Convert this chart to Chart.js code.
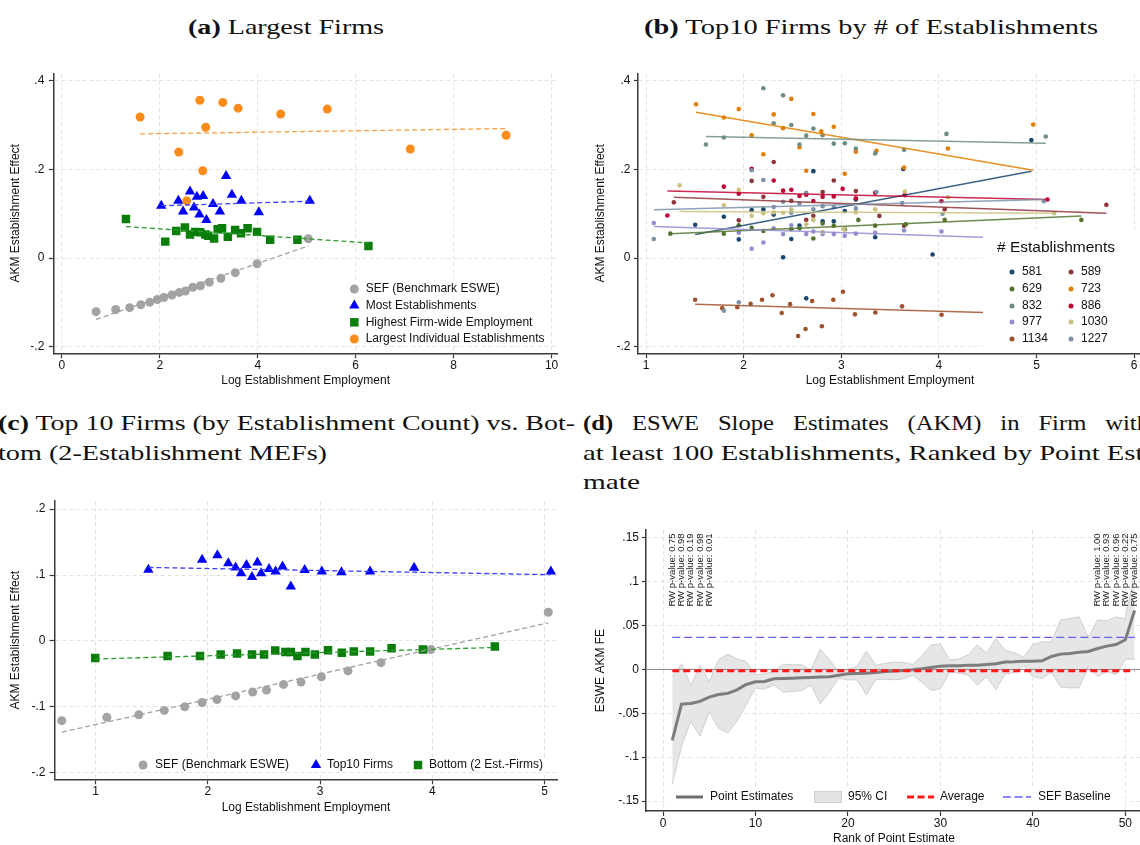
<!DOCTYPE html>
<html>
<head>
<meta charset="utf-8">
<script src="https://cdn.jsdelivr.net/npm/chart.js@4.4.1/dist/chart.umd.min.js"></script>
<style>
  html, body { margin: 0; padding: 0; background: #fff; }
  body { width: 1140px; height: 845px; overflow: hidden; position: relative; }
  canvas { position: absolute; }
  .ttl { position: absolute; font-family: "Liberation Serif", "Times New Roman", serif; font-size: 22px;
         line-height: 22px; white-space: nowrap; color: #111; transform-origin: 0 0; }
  .ttl.just { white-space: normal; text-align: justify; text-align-last: justify; }
</style>
</head>
<body>

<div class="ttl" data-w="196" style="left:188px; top:15.9px"><b>(a)</b> Largest Firms</div>
<div class="ttl" data-w="454" style="left:644px; top:15.9px"><b>(b)</b> Top10 Firms by # of Establishments</div>
<div class="ttl" data-w="577" style="left:-2px; top:411.6px"><b>(c)</b> Top 10 Firms (by Establishment Count) vs. Bot-</div>
<div class="ttl" data-w="329" style="left:-2px; top:441.6px">tom (2-Establishment MEFs)</div>
<div class="ttl just" data-w="566" data-s="1.12" style="left:583px; top:411.6px"><b>(d)</b> ESWE Slope Estimates (AKM) in Firm with</div>
<div class="ttl" data-w="578" style="left:583px; top:441.6px">at least 100 Establishments, Ranked by Point Esti-</div>
<div class="ttl" data-w="57" style="left:583px; top:470.6px">mate</div>

<canvas id="chartA" width="570" height="330" style="left:0px; top:60px"></canvas>
<canvas id="chartB" width="580" height="330" style="left:580px; top:60px"></canvas>
<canvas id="chartC" width="570" height="340" style="left:0px; top:490px"></canvas>
<canvas id="chartD" width="580" height="330" style="left:580px; top:520px"></canvas>

<script>
// ---------- data: panel (a) Largest Firms ----------
const sefX = [0.699, 1.100, 1.385, 1.612, 1.794, 1.949, 2.081, 2.247, 2.399, 2.522, 2.674, 2.830, 3.011, 3.248, 3.542, 3.986, 5.032];
const sefY = [-0.121, -0.116, -0.112, -0.1055, -0.100, -0.0935, -0.089, -0.0835, -0.0775, -0.0745, -0.066, -0.0625, -0.0545, -0.0455, -0.033, -0.013, 0.0435];
const sefFitX = [0.699, 5.032];
const sefFitY = [-0.1385, 0.0275];

const mostEstX = [2.030, 2.379, 2.476, 2.617, 2.699, 2.758, 2.810, 2.885, 2.952, 3.086, 3.227, 3.353, 3.472, 3.665, 4.022, 5.063];
const mostEstY = [0.118, 0.129, 0.105, 0.150, 0.114, 0.138, 0.098, 0.140, 0.086, 0.122, 0.105, 0.185, 0.143, 0.129, 0.103, 0.129];
const mostEstFitX = [2.030, 5.063];
const mostEstFitY = [0.118, 0.128];

const highEmpX = [1.309, 2.112, 2.335, 2.513, 2.617, 2.721, 2.825, 2.929, 2.989, 3.108, 3.182, 3.271, 3.390, 3.539, 3.658, 3.792, 3.985, 4.253, 4.810, 6.260];
const highEmpY = [0.088, 0.037, 0.061, 0.069, 0.053, 0.059, 0.058, 0.053, 0.050, 0.044, 0.065, 0.067, 0.048, 0.063, 0.056, 0.067, 0.059, 0.041, 0.041, 0.027];
const highEmpFitX = [1.309, 6.260];
const highEmpFitY = [0.071, 0.034];

const largestX = [1.599, 2.818, 3.286, 3.599, 4.468, 5.420, 2.937, 2.387, 2.877, 7.115, 9.071, 2.550];
const largestY = [0.318, 0.356, 0.351, 0.338, 0.325, 0.336, 0.295, 0.239, 0.197, 0.246, 0.277, 0.129];
const largestFitX = [1.599, 9.071];
const largestFitY = [0.280, 0.292];

const xTicksA = [0, 2, 4, 6, 8, 10];
const xLabelsA = ['0', '2', '4', '6', '8', '10'];
const yTicksA = [-0.2, 0, 0.2, 0.4];
const yLabelsA = ['-.2', '0', '.2', '.4'];

// ---------- data: panel (b) Top10 firms by # of establishments ----------
const firmNames = ['581', '589', '629', '723', '832', '886', '977', '1030', '1134', '1227'];
const firmColors = ['#1a476f', '#90353b', '#55752f', '#e37e00', '#6e8e84', '#c10534', '#938dd2', '#cac27e', '#a0522d', '#7b92a8'];

const firm581X = [1.504, 1.797, 1.950, 2.082, 2.202, 2.308, 2.404, 2.488, 2.572, 2.641, 2.714, 2.809, 2.923, 3.036, 3.149, 3.347, 3.635, 3.935, 4.947];
const firm581Y = [0.075, 0.093, 0.042, 0.108, 0.110, 0.098, 0.0015, 0.043, 0.073, -0.091, 0.196, 0.083, 0.083, 0.106, 0.132, 0.047, 0.201, 0.008, 0.266];
const firm589X = [1.285, 1.950, 2.082, 2.202, 2.308, 2.488, 2.641, 2.714, 2.809, 2.923, 3.149, 3.390, 3.643, 4.059, 5.715];
const firm589Y = [0.1256, 0.085, 0.174, 0.138, 0.2165, 0.129, 0.0865, 0.0955, 0.149, 0.175, 0.151, 0.095, 0.073, 0.110, 0.120];
const firm629X = [1.249, 1.797, 1.950, 2.082, 2.202, 2.488, 2.572, 2.714, 2.809, 2.923, 3.036, 3.175, 3.347, 3.661, 4.059, 5.459];
const firm629Y = [0.055, 0.055, 0.074, 0.068, 0.061, 0.065, 0.067, 0.044, 0.078, 0.073, 0.065, 0.086, 0.073, 0.076, 0.086, 0.086];
const firm723X = [1.512, 1.797, 1.950, 2.082, 2.202, 2.308, 2.404, 2.488, 2.572, 2.641, 2.714, 2.795, 2.923, 3.036, 3.149, 3.361, 3.643, 4.092, 4.966];
const firm723Y = [0.347, 0.317, 0.336, 0.277, 0.234, 0.324, 0.293, 0.359, 0.250, 0.197, 0.325, 0.286, 0.296, 0.190, 0.240, 0.242, 0.204, 0.247, 0.301];
const firm832X = [1.614, 1.797, 2.202, 2.308, 2.404, 2.488, 2.572, 2.641, 2.714, 2.809, 2.923, 3.036, 3.149, 3.347, 3.643, 4.077, 5.094];
const firm832Y = [0.256, 0.272, 0.383, 0.304, 0.367, 0.300, 0.256, 0.276, 0.292, 0.277, 0.258, 0.259, 0.247, 0.236, 0.244, 0.280, 0.274];
const firm886X = [1.219, 1.797, 1.950, 2.082, 2.308, 2.404, 2.488, 2.572, 2.641, 2.714, 2.809, 2.923, 3.014, 3.149, 3.347, 3.650, 4.026, 5.112];
const firm886Y = [0.096, 0.161, 0.145, 0.2015, 0.175, 0.152, 0.154, 0.140, 0.143, 0.1286, 0.138, 0.139, 0.156, 0.1346, 0.147, 0.142, 0.128, 0.132];
const firm977X = [1.080, 1.950, 2.082, 2.202, 2.308, 2.404, 2.488, 2.641, 2.714, 2.809, 2.923, 3.036, 3.149, 3.347, 3.643, 4.026];
const firm977Y = [0.079, 0.057, 0.021, 0.035, 0.067, 0.054, 0.074, 0.054, 0.060, 0.054, 0.054, 0.050, 0.055, 0.057, 0.062, 0.060];
const firm1030X = [1.344, 1.797, 1.950, 2.082, 2.202, 2.308, 2.404, 2.488, 2.641, 2.714, 2.809, 3.025, 3.149, 3.347, 3.650, 4.092, 5.181];
const firm1030Y = [0.164, 0.119, 0.154, 0.095, 0.101, 0.103, 0.102, 0.110, 0.076, 0.086, 0.059, 0.065, 0.103, 0.110, 0.150, 0.137, 0.101];
const firm1134X = [1.503, 1.781, 1.935, 2.072, 2.188, 2.295, 2.390, 2.476, 2.558, 2.634, 2.702, 2.801, 2.918, 3.017, 3.140, 3.349, 3.623, 4.027];
const firm1134Y = [-0.094, -0.113, -0.111, -0.103, -0.094, -0.084, -0.124, -0.104, -0.176, -0.160, -0.097, -0.154, -0.094, -0.076, -0.127, -0.123, -0.109, -0.128];
const firm1227X = [1.080, 1.797, 1.950, 2.082, 2.202, 2.308, 2.404, 2.488, 2.572, 2.641, 2.714, 2.809, 2.923, 3.149, 3.361, 3.624, 4.037, 5.075];
const firm1227Y = [0.043, -0.119, -0.100, 0.198, 0.176, 0.115, 0.127, 0.102, 0.123, 0.147, 0.110, 0.117, 0.115, 0.112, 0.149, 0.124, 0.100, 0.128];

// fitted lines: [x0, y0, x1, y1]
const fit581 = [1.504, 0.053, 4.947, 0.196];
const fit589 = [1.285, 0.137, 5.715, 0.101];
const fit629 = [1.249, 0.055, 5.459, 0.095];
const fit723 = [1.512, 0.329, 4.966, 0.198];
const fit832 = [1.614, 0.274, 5.094, 0.259];
const fit886 = [1.219, 0.151, 5.112, 0.132];
const fit977 = [1.080, 0.071, 5.000, 0.043];
const fit1030 = [1.344, 0.105, 5.181, 0.101];
const fit1134 = [1.503, -0.1045, 5.000, -0.126];
const fit1227 = [1.080, 0.109, 5.075, 0.132];

const xTicksB = [1, 2, 3, 4, 5, 6];
const xLabelsB = ['1', '2', '3', '4', '5', '6'];

// ---------- data: panel (c) Top 10 vs bottom ----------
const top10X = [1.470, 1.949, 2.085, 2.182, 2.247, 2.296, 2.344, 2.393, 2.441, 2.474, 2.545, 2.603, 2.665, 2.739, 2.862, 3.015, 3.190, 3.445, 3.837, 5.055];
const top10Y = [0.108, 0.123, 0.130, 0.118, 0.1115, 0.1025, 0.115, 0.097, 0.119, 0.1025, 0.109, 0.1055, 0.113, 0.0825, 0.1075, 0.1055, 0.104, 0.1055, 0.111, 0.1055];
const top10FitX = [1.470, 5.055];
const top10FitY = [0.1115, 0.1005];

const bottomX = [0.997, 1.641, 1.930, 2.114, 2.260, 2.393, 2.500, 2.600, 2.691, 2.739, 2.798, 2.869, 2.953, 3.070, 3.193, 3.300, 3.445, 3.636, 3.915, 4.556];
const bottomY = [-0.026, -0.023, -0.023, -0.0205, -0.019, -0.0205, -0.0205, -0.0145, -0.017, -0.017, -0.023, -0.017, -0.0205, -0.014, -0.018, -0.016, -0.016, -0.011, -0.013, -0.0085];
const bottomFitX = [0.997, 4.556];
const bottomFitY = [-0.0275, -0.010];

const xTicksC = [1, 2, 3, 4, 5];
const xLabelsC = ['1', '2', '3', '4', '5'];
const yTicksC = [-0.2, -0.1, 0, 0.1, 0.2];
const yLabelsC = ['-.2', '-.1', '0', '.1', '.2'];

// ---------- data: panel (d) ESWE slope estimates ----------
const rankD = [1, 2, 3, 4, 5, 6, 7, 8, 9, 10, 11, 12, 13, 14, 15, 16, 17, 18, 19, 20, 21, 22, 23, 24, 25,
               26, 27, 28, 29, 30, 31, 32, 33, 34, 35, 36, 37, 38, 39, 40, 41, 42, 43, 44, 45, 46, 47, 48, 49, 50, 51];
const pointEst = [-0.081, -0.0395, -0.0387, -0.0364, -0.0315, -0.0285, -0.0273, -0.0232, -0.0171, -0.014,
                  -0.0137, -0.0106, -0.0103, -0.0099, -0.0095, -0.0091, -0.0087, -0.0084, -0.0065, -0.0049,
                  -0.0046, -0.0042, -0.0034, -0.0023, -0.0019, -0.0011, -0.0004, 0.0008, 0.0023, 0.0038,
                  0.0042, 0.0042, 0.0049, 0.0049, 0.0057, 0.0065, 0.0084, 0.0087, 0.0095, 0.0095,
                  0.0099, 0.0148, 0.0175, 0.0182, 0.0197, 0.0205, 0.0239, 0.0266, 0.0285, 0.0338, 0.0672];
const ciUpper = [-0.008, 0.0065, -0.018, 0.0045, -0.014, 0.011, 0.0175, 0.012, 0.009, -0.006,
                 -0.005, -0.0023, 0.006, 0.0053, 0.0053, -0.0004, 0.023, 0.011, -0.0027, 0.0004,
                 0.0034, 0.021, 0.0046, 0.007, 0.0084, 0.008, 0.0057, 0.0156, 0.028, 0.029,
                 0.011, 0.0118, 0.0167, 0.028, 0.0186, 0.035, 0.0216, 0.019, 0.014, 0.0285,
                 0.0315, 0.0315, 0.0566, 0.058, 0.060, 0.0364, 0.0566, 0.0554, 0.060, 0.0577, 0.110];
const ciLower = [-0.131, -0.088, -0.059, -0.076, -0.048, -0.067, -0.0725, -0.059, -0.040, -0.021,
                 -0.0225, -0.0175, -0.026, -0.025, -0.024, -0.018, -0.039, -0.026, -0.010, -0.0118,
                 -0.012, -0.029, -0.0118, -0.011, -0.0118, -0.0106, -0.0065, -0.0144, -0.024, -0.022,
                 -0.003, -0.0042, -0.0065, -0.018, -0.008, -0.023, -0.0053, -0.0034, 0.0046, -0.008,
                 -0.0106, -0.003, -0.020, -0.021, -0.021, 0.0034, -0.008, -0.0023, -0.006, 0.0118, 0.0118];
const averageD = -0.0015;
const sefBaselineD = 0.0365;
const annotRanks = [1, 2, 3, 4, 5, 47, 48, 49, 50, 51];
const annotPvals = ['0.75', '0.98', '0.19', '0.98', '0.01', '1.00', '0.93', '0.96', '0.22', '0.75'];
const annotY = 0.0717;

const xTicksD = [0, 10, 20, 30, 40, 50];
const xLabelsD = ['0', '10', '20', '30', '40', '50'];
const yTicksD = [-0.15, -0.1, -0.05, 0, 0.05, 0.1, 0.15];
const yLabelsD = ['-.15', '-.1', '-.05', '0', '.05', '.1', '.15'];
const xMinD = -1.84, xMaxD = 51.8;

// ---------- styling ----------
const FONT = '"Liberation Sans", Arial, Helvetica, sans-serif';
const GRID = '#e2e2e2';
const AXIS = '#3a3a3a';
const TXT = '#111';
const C_SEF = '#a3a3a3', C_BLUE = '#0000f5', C_GREEN = '#0a7d0a', C_ORANGE = '#fb8c1c';
const R_CIRCLE = 4.5, R_TRI = 6, R_RECT = 6;

Chart.defaults.font.family = FONT;
Chart.defaults.font.size = 12;
Chart.defaults.color = TXT;
Chart.defaults.animation = false;
Chart.defaults.plugins.legend.display = false;
Chart.defaults.plugins.tooltip.enabled = false;

function pts(xs, ys) {
    return xs.map((x, i) => ({ x: x, y: ys[i] }));
}

function axis(o) {
    return {
        type: 'linear',
        position: o.pos,
        min: o.min,
        max: o.max,
        afterBuildTicks: s => { s.ticks = o.ticks.map(v => ({ value: v })); },
        afterFit: s => { if (o.pos === 'left') s.width = o.size; else s.height = o.size; },
        ticks: { autoSkip: false, maxRotation: 0, padding: o.pad, color: TXT,
                 callback: (v, i) => o.labels[i] },
        grid: { color: GRID, lineWidth: 1, tickLength: o.tl, tickColor: AXIS, tickWidth: 1.2 },
        border: { display: true, color: AXIS, width: 1.5, dash: [4, 3] },
        title: { display: true, text: o.title, color: TXT, padding: o.titlePad }
    };
}

function marker(ctx, style, x, y, r, color) {
    ctx.save();
    ctx.fillStyle = color;
    ctx.beginPath();
    if (style === 'triangle') {
        let rad = 0;
        ctx.moveTo(x + Math.sin(rad) * r, y - Math.cos(rad) * r);
        rad += 2 * Math.PI / 3;
        ctx.lineTo(x + Math.sin(rad) * r, y - Math.cos(rad) * r);
        rad += 2 * Math.PI / 3;
        ctx.lineTo(x + Math.sin(rad) * r, y - Math.cos(rad) * r);
        ctx.closePath();
    } else if (style === 'rect') {
        const s = Math.SQRT1_2 * r;
        ctx.rect(x - s, y - s, 2 * s, 2 * s);
    } else {
        ctx.arc(x, y, r, 0, 2 * Math.PI);
    }
    ctx.fill();
    ctx.restore();
}

function label(ctx, text, x, y, size) {
    ctx.save();
    ctx.fillStyle = TXT;
    ctx.font = (size || 12) + 'px ' + FONT;
    ctx.textAlign = 'left';
    ctx.textBaseline = 'middle';
    ctx.fillText(text, x, y);
    ctx.restore();
}

function whiteBox(ctx, x, y, w, h) {
    ctx.save();
    ctx.fillStyle = '#fff';
    ctx.fillRect(x, y, w, h);
    ctx.restore();
}

function sample(ctx, x0, x1, y, color, width, dash) {
    ctx.save();
    ctx.strokeStyle = color;
    ctx.lineWidth = width;
    ctx.setLineDash(dash || []);
    ctx.beginPath();
    ctx.moveTo(x0, y);
    ctx.lineTo(x1, y);
    ctx.stroke();
    ctx.restore();
}

function scatterSet(xs, ys, style, r, color, order) {
    return { data: pts(xs, ys), pointStyle: style, pointRadius: r, backgroundColor: color,
             borderWidth: 0, pointBorderWidth: 0, showLine: false, order: order };
}

function fitSet(xs, ys, color, order, dash, width) {
    return { data: pts(xs, ys), showLine: true, pointRadius: 0, borderColor: color,
             borderWidth: width || 1.3, borderDash: dash || [], fill: false, order: order };
}

// ---------- panel (a) ----------
new Chart(document.getElementById('chartA'), {
    type: 'scatter',
    data: {
        datasets: [
            scatterSet(sefX, sefY, 'circle', R_CIRCLE, C_SEF, 8),
            scatterSet(mostEstX, mostEstY, 'triangle', R_TRI, C_BLUE, 7),
            scatterSet(highEmpX, highEmpY, 'rect', R_RECT, C_GREEN, 6),
            scatterSet(largestX, largestY, 'circle', R_CIRCLE, C_ORANGE, 5),
            fitSet(sefFitX, sefFitY, '#a0a0a0', 4, [5, 3]),
            fitSet(mostEstFitX, mostEstFitY, '#3b3bff', 3, [5, 3]),
            fitSet(highEmpFitX, highEmpFitY, '#2f9a2f', 2, [5, 3]),
            fitSet(largestFitX, largestFitY, '#ff9d3d', 1, [5, 3])
        ]
    },
    options: {
        responsive: false,
        events: [],
        layout: { padding: { left: 0, top: 13.3, right: 12.5, bottom: 0 } },
        scales: {
            x: axis({ pos: 'bottom', min: -0.164, max: 10.12, ticks: xTicksA, labels: xLabelsA, size: 36.7,
                      tl: 5, pad: 0, title: 'Log Establishment Employment', titlePad: { top: 0, bottom: 1.8 } }),
            y: axis({ pos: 'left', min: -0.2149, max: 0.4167, ticks: yTicksA, labels: yLabelsA, size: 53.8,
                      tl: 5, pad: 4.5, title: 'AKM Establishment Effect', titlePad: { top: 8.8, bottom: 0 } })
        }
    },
    plugins: [{
        id: 'legendA',
        afterDatasetsDraw(chart) {
            const ctx = chart.ctx;
            whiteBox(ctx, 346, 220, 204, 63);
            const rows = [229, 245.5, 262.3, 279];
            marker(ctx, 'circle', 354.3, rows[0], R_CIRCLE, C_SEF);
            label(ctx, 'SEF (Benchmark ESWE)', 365.7, rows[0]);
            marker(ctx, 'triangle', 354.3, rows[1], R_TRI, C_BLUE);
            label(ctx, 'Most Establishments', 365.7, rows[1]);
            marker(ctx, 'rect', 354.3, rows[2], R_RECT, C_GREEN);
            label(ctx, 'Highest Firm-wide Employment', 365.7, rows[2]);
            marker(ctx, 'circle', 354.3, rows[3], R_CIRCLE, C_ORANGE);
            label(ctx, 'Largest Individual Establishments', 365.7, rows[3]);
        }
    }]
});

// ---------- panel (b) ----------
const firmX = [firm581X, firm589X, firm629X, firm723X, firm832X, firm886X, firm977X, firm1030X, firm1134X, firm1227X];
const firmY = [firm581Y, firm589Y, firm629Y, firm723Y, firm832Y, firm886Y, firm977Y, firm1030Y, firm1134Y, firm1227Y];
const firmFits = [fit581, fit589, fit629, fit723, fit832, fit886, fit977, fit1030, fit1134, fit1227];

const datasetsB = [];
firmNames.forEach((name, i) => {
    datasetsB.push(scatterSet(firmX[i], firmY[i], 'circle', 2.3, firmColors[i], 30 - i));
});
firmNames.forEach((name, i) => {
    const f = firmFits[i];
    datasetsB.push(fitSet([f[0], f[2]], [f[1], f[3]], firmColors[i] + 'd9', 15 - i, [], 1.5));
});

new Chart(document.getElementById('chartB'), {
    type: 'scatter',
    data: { datasets: datasetsB },
    options: {
        responsive: false,
        events: [],
        layout: { padding: { left: 0, top: 13.3, right: 18, bottom: 0 } },
        scales: {
            x: axis({ pos: 'bottom', min: 0.918, max: 6.08, ticks: xTicksB, labels: xLabelsB, size: 36.7,
                      tl: 5, pad: 0, title: 'Log Establishment Employment', titlePad: { top: 0, bottom: 1.8 } }),
            y: axis({ pos: 'left', min: -0.2149, max: 0.4167, ticks: yTicksA, labels: yLabelsA, size: 58,
                      tl: 4, pad: 3.5, title: 'AKM Establishment Effect', titlePad: { top: 13.8, bottom: 0 } })
        }
    },
    plugins: [{
        id: 'legendB',
        afterDatasetsDraw(chart) {
            const ctx = chart.ctx;
            const a = chart.chartArea;
            whiteBox(ctx, 403, 170, a.right - 403, a.bottom - 1 - 170);
            label(ctx, '# Establishments', 417, 188, 15.5);
            const rows = [212, 229, 246, 262, 279];
            firmNames.forEach((name, i) => {
                const col = i % 2, row = Math.floor(i / 2);
                const mx = col === 0 ? 432 : 491;
                marker(ctx, 'circle', mx, rows[row], 2.5, firmColors[i]);
                label(ctx, name, mx + 10, rows[row]);
            });
        }
    }]
});

// ---------- panel (c) ----------
new Chart(document.getElementById('chartC'), {
    type: 'scatter',
    data: {
        datasets: [
            scatterSet(sefX, sefY, 'circle', R_CIRCLE, C_SEF, 8),
            scatterSet(top10X, top10Y, 'triangle', R_TRI, C_BLUE, 7),
            scatterSet(bottomX, bottomY, 'rect', R_RECT, C_GREEN, 6),
            fitSet(sefFitX, sefFitY, '#a0a0a0', 3, [5, 3]),
            fitSet(top10FitX, top10FitY, '#3b3bff', 2, [5, 3]),
            fitSet(bottomFitX, bottomFitY, '#2f9a2f', 1, [5, 3])
        ]
    },
    options: {
        responsive: false,
        events: [],
        layout: { padding: { left: 0, top: 8, right: 12.5, bottom: 0 } },
        scales: {
            x: axis({ pos: 'bottom', min: 0.634, max: 5.114, ticks: xTicksC, labels: xLabelsC, size: 50.7,
                      tl: 5, pad: 0, title: 'Log Establishment Employment', titlePad: { top: 0, bottom: 14.8 } }),
            y: axis({ pos: 'left', min: -0.21, max: 0.212, ticks: yTicksC, labels: yLabelsC, size: 54.5,
                      tl: 5, pad: 4, title: 'AKM Establishment Effect', titlePad: { top: 8.8, bottom: 0 } })
        }
    },
    plugins: [{
        id: 'legendC',
        afterDatasetsDraw(chart) {
            const ctx = chart.ctx;
            whiteBox(ctx, 135, 267, 413, 14);
            const y = 275;
            marker(ctx, 'circle', 143, y, R_CIRCLE, C_SEF);
            label(ctx, 'SEF (Benchmark ESWE)', 155, y);
            marker(ctx, 'triangle', 316, y, R_TRI, C_BLUE);
            label(ctx, 'Top10 Firms', 327, y);
            marker(ctx, 'rect', 418, y, R_RECT, C_GREEN);
            label(ctx, 'Bottom (2 Est.-Firms)', 429, y);
        }
    }]
});

// ---------- panel (d) ----------
const firstRank = rankD[0], lastRank = rankD[rankD.length - 1];
new Chart(document.getElementById('chartD'), {
    type: 'line',
    data: {
        datasets: [
            { data: pts(rankD, ciUpper), borderColor: '#cfcfcf', borderWidth: 1, backgroundColor: '#e6e6e6',
              fill: '+1', pointRadius: 0, order: 10 },
            { data: pts(rankD, ciLower), borderColor: '#cfcfcf', borderWidth: 1, fill: false, pointRadius: 0, order: 9 },
            { data: [{ x: xMinD, y: 0 }, { x: xMaxD, y: 0 }], borderColor: '#8c8c8c', borderWidth: 1,
              fill: false, pointRadius: 0, order: 8 },
            { data: pts(rankD, pointEst), borderColor: '#7d7d7d', borderWidth: 3, fill: false, pointRadius: 0, order: 7 },
            { data: [{ x: firstRank, y: sefBaselineD }, { x: lastRank, y: sefBaselineD }], borderColor: '#6060ff',
              borderWidth: 1.3, borderDash: [8, 4], fill: false, pointRadius: 0, order: 6 },
            { data: [{ x: firstRank, y: averageD }, { x: lastRank, y: averageD }], borderColor: '#ff1a1a',
              borderWidth: 3, borderDash: [7, 4], fill: false, pointRadius: 0, order: 5 }
        ]
    },
    options: {
        responsive: false,
        events: [],
        layout: { padding: { left: 0, top: 10, right: 18, bottom: 0 } },
        scales: {
            x: axis({ pos: 'bottom', min: xMinD, max: xMaxD, ticks: xTicksD, labels: xLabelsD, size: 39,
                      tl: 5, pad: 0, title: 'Rank of Point Estimate', titlePad: { top: 0, bottom: 3.8 } }),
            y: axis({ pos: 'left', min: -0.1614, max: 0.1588, ticks: yTicksD, labels: yLabelsD, size: 66,
                      tl: 4, pad: 3, title: 'ESWE AKM FE', titlePad: { top: 13.8, bottom: 0 } })
        }
    },
    plugins: [{
        id: 'legendD',
        afterDatasetsDraw(chart) {
            const ctx = chart.ctx;
            const xs = chart.scales.x, ys = chart.scales.y;
            // rotated p-value annotations
            ctx.save();
            ctx.fillStyle = '#222';
            ctx.font = '9.5px ' + FONT;
            ctx.textAlign = 'left';
            ctx.textBaseline = 'middle';
            annotRanks.forEach((r, i) => {
                ctx.save();
                ctx.translate(xs.getPixelForValue(r), ys.getPixelForValue(annotY));
                ctx.rotate(-Math.PI / 2);
                ctx.fillText('RW p-value: ' + annotPvals[i], 0, 0);
                ctx.restore();
            });
            ctx.restore();
            // legend
            whiteBox(ctx, 88, 268, 457, 20);
            const y = 277;
            sample(ctx, 96, 123, y, '#6e6e6e', 3);
            label(ctx, 'Point Estimates', 130, y);
            ctx.save();
            ctx.fillStyle = '#e3e3e3';
            ctx.strokeStyle = '#d0d0d0';
            ctx.fillRect(234, 271, 28, 12);
            ctx.strokeRect(234.5, 271.5, 27, 11);
            ctx.restore();
            label(ctx, '95% CI', 268, y);
            sample(ctx, 327, 354, y, '#ff1a1a', 3, [7, 3.5]);
            label(ctx, 'Average', 360, y);
            sample(ctx, 423, 451, y, '#6060ff', 1.3, [8, 3.5]);
            label(ctx, 'SEF Baseline', 458, y);
        }
    }]
});

// ---------- fit title lines to their widths ----------
document.querySelectorAll('.ttl').forEach(el => {
    const w = +el.dataset.w;
    if (el.classList.contains('just')) {
        const s = +el.dataset.s;
        el.style.width = (w / s) + 'px';
        el.style.transform = 'scaleX(' + s + ')';
    } else {
        const n = el.getBoundingClientRect().width;
        el.style.transform = 'scaleX(' + (w / n) + ')';
    }
});
</script>
</body>
</html>
